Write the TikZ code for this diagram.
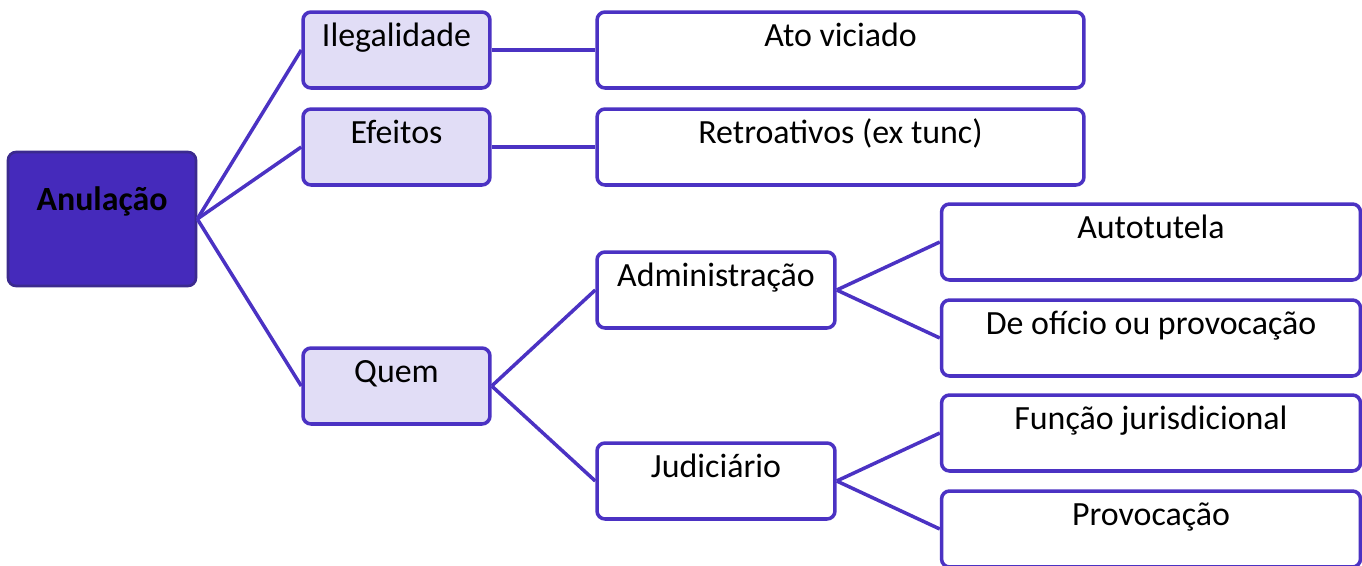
\documentclass[tikz,border=0pt]{standalone}
\usepackage{fontspec}
\setmainfont{Carlito}
\usepackage{xcolor}
\usepackage{tikz}
\usetikzlibrary{positioning}

\definecolor{edgeblue}{HTML}{4B32C3}
\definecolor{rootfill}{HTML}{452ABB}
\definecolor{rootline}{HTML}{3B2A8E}
\definecolor{midfill}{HTML}{E1DDF6}

\tikzset{
  box/.style={draw=edgeblue,line width=2pt,rounded corners=0.16cm,inner sep=0pt,
    font=\fontsize{19.3}{23}\selectfont,text height=0.5cm,text depth=0.66cm,minimum height=1.52cm},
  rootbox/.style={box,draw=rootline,line width=1.5pt,fill=rootfill,font=\fontsize{19.3}{23}\selectfont\bfseries,
    minimum width=3.76cm,minimum height=2.68cm,text depth=0.86cm},
  midbox/.style={box,fill=midfill,minimum width=3.74cm},
  leafbox/.style={box,fill=white,minimum width=9.74cm},
  whobox/.style={box,fill=white,minimum width=4.76cm},
  endbox/.style={box,fill=white,minimum width=8.38cm},
  link/.style={draw=edgeblue,line width=2pt}
}

\begin{document}
\begin{tikzpicture}[x=0.02cm,y=-0.02cm]
\useasboundingbox (0,0) rectangle (1362,565);
\node[rootbox] (anul) at (102,219) {Anulação};
\node[midbox] (ileg) at (396.5,50) {Ilegalidade};
\node[midbox] (efei) at (396.5,147) {Efeitos};
\node[midbox] (quem) at (396.5,386) {Quem};
\node[leafbox] (ato) at (840.5,50) {Ato viciado};
\node[leafbox] (retro) at (840.5,147) {Retroativos (ex tunc)};
\node[whobox] (adm) at (716,290) {Administração};
\node[whobox] (jud) at (716,481) {Judiciário};
\node[endbox] (auto) at (1151,242) {Autotutela};
\node[endbox] (ofic) at (1151,338) {De ofício ou provocação};
\node[endbox] (func) at (1151,433) {Função jurisdicional};
\node[endbox] (prov) at (1151,529) {Provocação};

% connectors
\draw[link] (anul.east) -- (ileg.west);
\draw[link] (anul.east) -- (efei.west);
\draw[link] (anul.east) -- (quem.west);
\draw[link] (ileg) -- (ato);
\draw[link] (efei) -- (retro);
\draw[link] (quem.east) -- (adm.west);
\draw[link] (quem.east) -- (jud.west);
\draw[link] (adm.east) -- (auto.west);
\draw[link] (adm.east) -- (ofic.west);
\draw[link] (jud.east) -- (func.west);
\draw[link] (jud.east) -- (prov.west);
\end{tikzpicture}
\end{document}
